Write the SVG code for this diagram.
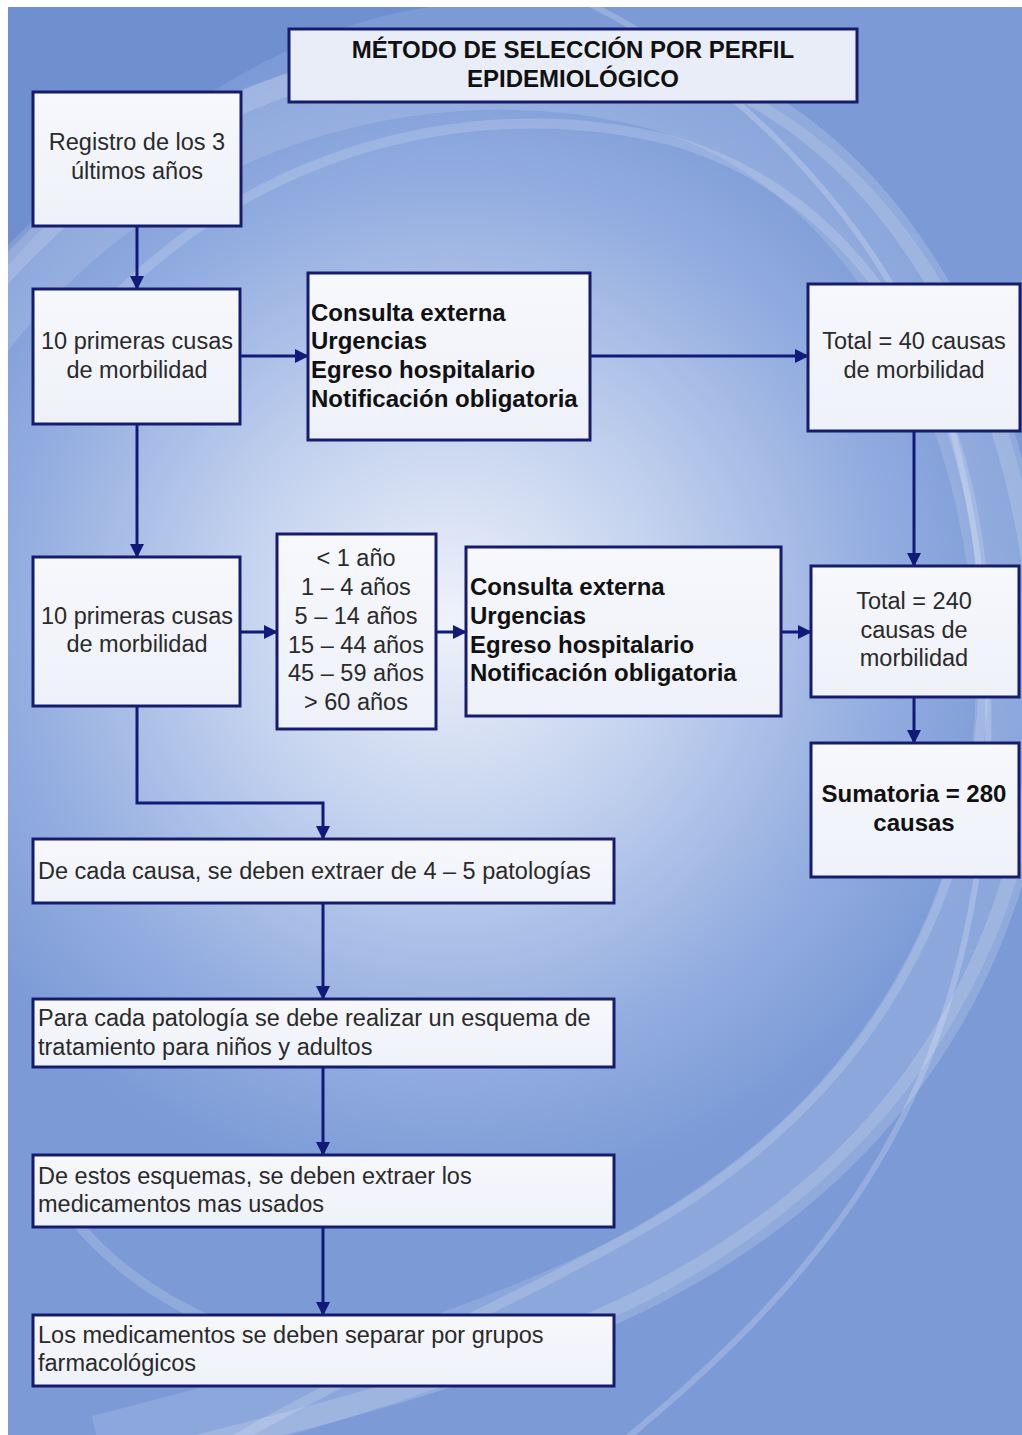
<svg xmlns="http://www.w3.org/2000/svg" width="1022" height="1435" viewBox="0 0 1022 1435">
<defs>
<radialGradient id="glow" cx="450" cy="620" r="580" gradientUnits="userSpaceOnUse">
<stop offset="0" stop-color="#eef2fa"/>
<stop offset="0.35" stop-color="#c6d4ef"/>
<stop offset="0.75" stop-color="#93ade0"/>
<stop offset="1" stop-color="#7b9ad6"/>
</radialGradient>
<linearGradient id="boxfill" x1="0" y1="0" x2="0" y2="1">
<stop offset="0" stop-color="#f7f8fc"/>
<stop offset="1" stop-color="#eef1f9"/>
</linearGradient>
<marker id="arr" markerUnits="userSpaceOnUse" markerWidth="14" markerHeight="14" refX="13" refY="7" orient="auto">
<path d="M0,0 L14,7 L0,14 z" fill="#111a78"/>
</marker>
<clipPath id="bgclip"><rect x="8" y="7" width="1014" height="1428"/></clipPath>
</defs>
<style>
.box{fill:url(#boxfill);stroke:#161c6c;stroke-width:3}
.title{fill:#e9edf8;stroke:#161c6c;stroke-width:3}
.t{font-family:"Liberation Sans",Arial,sans-serif;font-size:23.5px;fill:#2a2a2a}
.b{font-family:"Liberation Sans",Arial,sans-serif;font-size:24px;font-weight:bold;fill:#111}
.c{text-anchor:middle}
.conn{fill:none;stroke:#111a78;stroke-width:3}
.sw{fill:none;stroke:#ffffff}
</style>
<rect x="0" y="0" width="1022" height="1435" fill="#ffffff"/>
<g id="background" clip-path="url(#bgclip)">
<rect x="8" y="7" width="1014" height="1428" fill="url(#glow)"/>
<path d="M8,7 L430,7 C300,25 150,110 8,265 z" fill="#6d8dcd" opacity="0.85"/>
<path class="sw" d="M-20,330 C150,110 420,40 640,90 C860,140 1000,380 1010,650 C1020,900 900,1120 650,1260 C500,1340 300,1400 100,1450" stroke-width="70" opacity="0.13"/>
<path class="sw" d="M-20,300 C160,80 440,10 660,60 C880,110 1030,370 1040,650 C1050,910 930,1140 680,1280 C520,1370 300,1420 100,1470" stroke-width="22" opacity="0.16"/>
<path class="sw" d="M60,360 C220,150 470,90 670,140 C880,200 990,420 985,660 C980,900 870,1100 640,1230 C500,1310 350,1370 200,1460" stroke-width="10" opacity="0.16"/>
<path class="sw" d="M560,-10 C720,60 860,200 930,360 C990,520 1010,760 960,960 C910,1160 800,1300 600,1460" stroke-width="6" opacity="0.2"/>
<path class="sw" d="M70,1215 C110,1265 160,1300 220,1325" stroke-width="10" opacity="0.16"/>
</g>
<g id="connectors">
<path class="conn" d="M137,226 V289" marker-end="url(#arr)"/>
<path class="conn" d="M240,356 H308" marker-end="url(#arr)"/>
<path class="conn" d="M590,356 H808" marker-end="url(#arr)"/>
<path class="conn" d="M914,431 V566" marker-end="url(#arr)"/>
<path class="conn" d="M137,424 V557" marker-end="url(#arr)"/>
<path class="conn" d="M240,632 H277" marker-end="url(#arr)"/>
<path class="conn" d="M436,632 H466" marker-end="url(#arr)"/>
<path class="conn" d="M781,632 H811" marker-end="url(#arr)"/>
<path class="conn" d="M914,697 V743" marker-end="url(#arr)"/>
<path class="conn" d="M137,706 V803 H323 V839" marker-end="url(#arr)"/>
<path class="conn" d="M323,903 V999" marker-end="url(#arr)"/>
<path class="conn" d="M323,1067 V1155" marker-end="url(#arr)"/>
<path class="conn" d="M323,1227 V1315" marker-end="url(#arr)"/>
</g>
<g id="title">
<rect class="title" x="289" y="29" width="568" height="73"/>
<text class="b c" x="573" y="58">MÉTODO DE SELECCIÓN POR PERFIL</text>
<text class="b c" x="573" y="87">EPIDEMIOLÓGICO</text>
</g>
<g id="registro">
<rect class="box" x="33" y="92" width="208" height="134"/>
<text class="t c" x="137" y="150">Registro de los 3</text>
<text class="t c" x="137" y="179">últimos años</text>
</g>
<g id="primeras1">
<rect class="box" x="33" y="289" width="207" height="135"/>
<text class="t c" x="137" y="349">10 primeras cusas</text>
<text class="t c" x="137" y="378">de morbilidad</text>
</g>
<g id="fuentes1">
<rect class="box" x="308" y="273" width="282" height="167"/>
<text class="b" x="311" y="321">Consulta externa</text>
<text class="b" x="311" y="349">Urgencias</text>
<text class="b" x="311" y="378">Egreso hospitalario</text>
<text class="b" x="311" y="407">Notificación obligatoria</text>
</g>
<g id="total40">
<rect class="box" x="808" y="284" width="212" height="147"/>
<text class="t c" x="914" y="349">Total = 40 causas</text>
<text class="t c" x="914" y="378">de morbilidad</text>
</g>
<g id="primeras2">
<rect class="box" x="33" y="557" width="207" height="149"/>
<text class="t c" x="137" y="624">10 primeras cusas</text>
<text class="t c" x="137" y="652">de morbilidad</text>
</g>
<g id="edades">
<rect class="box" x="277" y="534" width="159" height="195"/>
<text class="t c" x="356" y="566">&lt; 1 año</text>
<text class="t c" x="356" y="595">1 – 4 años</text>
<text class="t c" x="356" y="624">5 – 14 años</text>
<text class="t c" x="356" y="653">15 – 44 años</text>
<text class="t c" x="356" y="681">45 – 59 años</text>
<text class="t c" x="356" y="710">&gt; 60 años</text>
</g>
<g id="fuentes2">
<rect class="box" x="466" y="547" width="315" height="169"/>
<text class="b" x="470" y="595">Consulta externa</text>
<text class="b" x="470" y="624">Urgencias</text>
<text class="b" x="470" y="653">Egreso hospitalario</text>
<text class="b" x="470" y="681">Notificación obligatoria</text>
</g>
<g id="total240">
<rect class="box" x="811" y="566" width="208" height="131"/>
<text class="t c" x="914" y="609">Total = 240</text>
<text class="t c" x="914" y="638">causas de</text>
<text class="t c" x="914" y="666">morbilidad</text>
</g>
<g id="sumatoria">
<rect class="box" x="811" y="743" width="208" height="134"/>
<text class="b c" x="914" y="802">Sumatoria = 280</text>
<text class="b c" x="914" y="831">causas</text>
</g>
<g id="patologias">
<rect class="box" x="33" y="839" width="581" height="64"/>
<text class="t" x="38" y="879">De cada causa, se deben extraer de 4 – 5 patologías</text>
</g>
<g id="esquema">
<rect class="box" x="33" y="999" width="581" height="68"/>
<text class="t" x="38" y="1026">Para cada patología se debe realizar un esquema de</text>
<text class="t" x="38" y="1055">tratamiento para niños y adultos</text>
</g>
<g id="medicamentos">
<rect class="box" x="33" y="1155" width="581" height="72"/>
<text class="t" x="38" y="1184">De estos esquemas, se deben extraer los</text>
<text class="t" x="38" y="1212">medicamentos mas usados</text>
</g>
<g id="grupos">
<rect class="box" x="33" y="1315" width="581" height="71"/>
<text class="t" x="38" y="1343">Los medicamentos se deben separar por grupos</text>
<text class="t" x="38" y="1371">farmacológicos</text>
</g>
</svg>
